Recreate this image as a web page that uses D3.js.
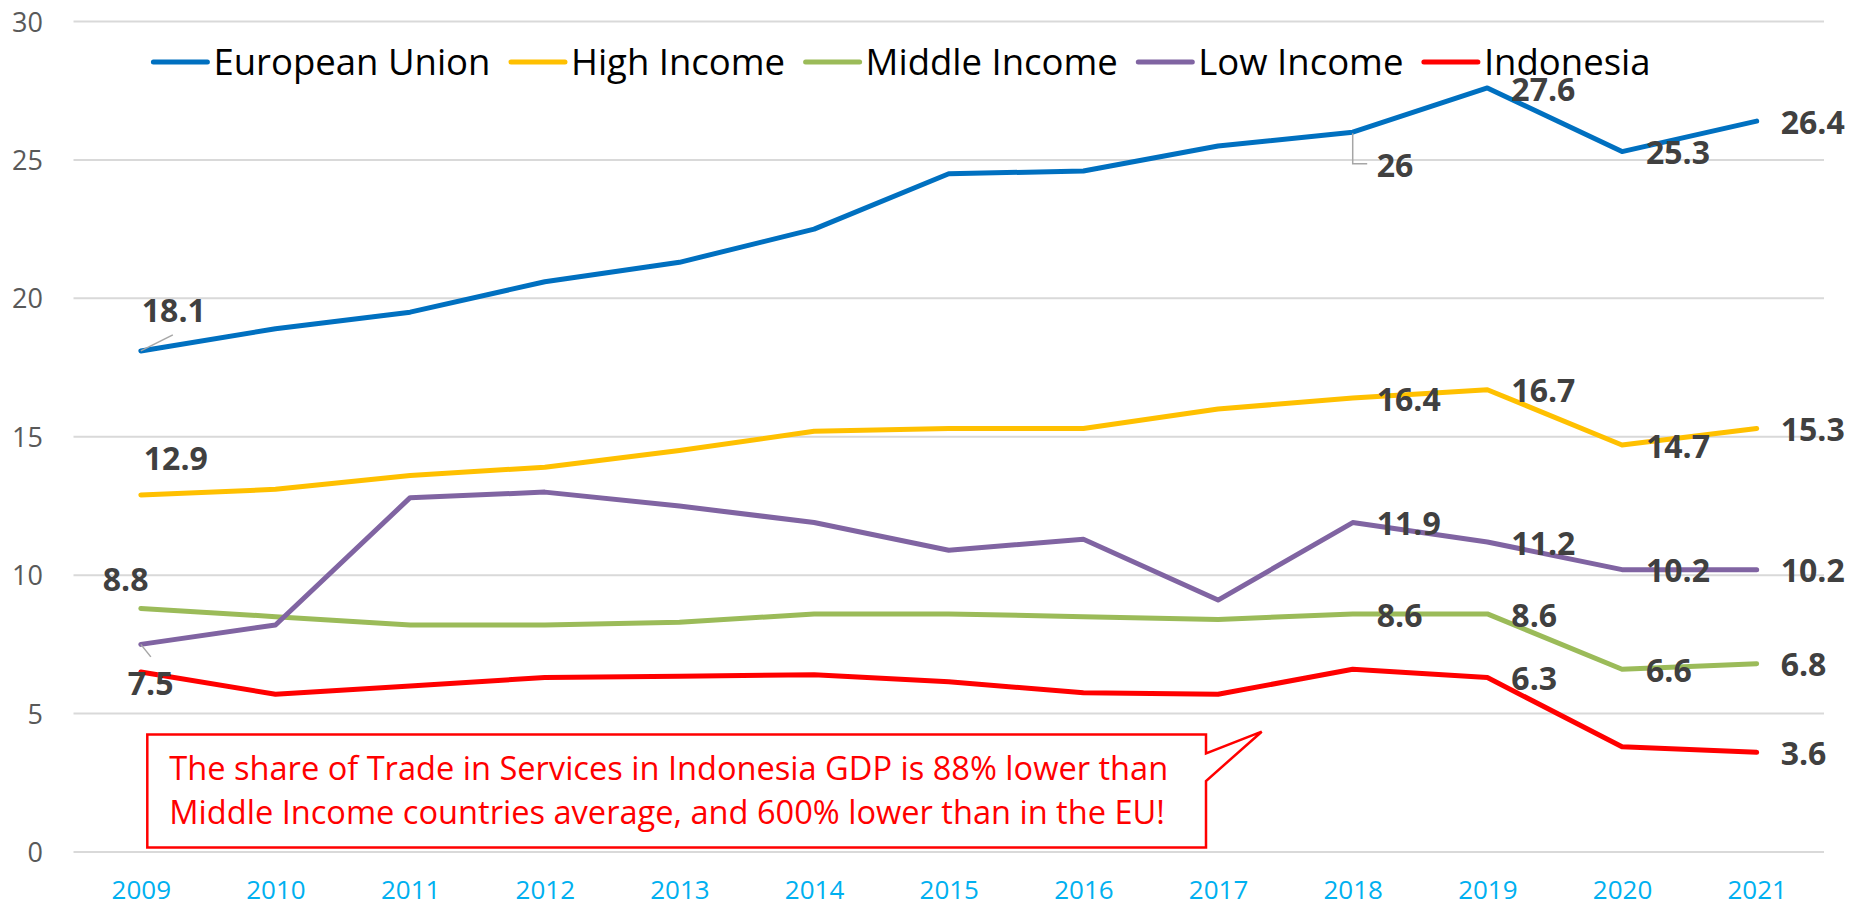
<!DOCTYPE html>
<html>
<head>
<meta charset="utf-8">
<script src="https://cdn.jsdelivr.net/npm/d3@7"></script>
<style>
  html, body { margin: 0; padding: 0; background: #ffffff; }
  svg { display: block; }
  text { font-family: "Open Sans", "Noto Sans", sans-serif; }
</style>
</head>
<body>
<svg id="chart" width="1854" height="907"></svg>
<script>
// ---------- DATA ----------
const years = ["2009","2010","2011","2012","2013","2014","2015","2016","2017","2018","2019","2020","2021"];
const seriesNames = ["European Union","High Income","Middle Income","Low Income","Indonesia"];
const euValues     = [18.1, 18.9, 19.5, 20.6, 21.3, 22.5, 24.5, 24.6, 25.5, 26.0, 27.6, 25.3, 26.4];
const highValues   = [12.9, 13.1, 13.6, 13.9, 14.5, 15.2, 15.3, 15.3, 16.0, 16.4, 16.7, 14.7, 15.3];
const middleValues = [8.8, 8.5, 8.2, 8.2, 8.3, 8.6, 8.6, 8.5, 8.4, 8.6, 8.6, 6.6, 6.8];
const lowValues    = [7.5, 8.2, 12.8, 13.0, 12.5, 11.9, 10.9, 11.3, 9.1, 11.9, 11.2, 10.2, 10.2];
const indoValues   = [6.5, 5.7, 6.0, 6.3, 6.35, 6.4, 6.15, 5.75, 5.7, 6.6, 6.3, 3.8, 3.6];
const yTicks = [0, 5, 10, 15, 20, 25, 30];
// which points carry a value label: [series index, year index]
const labelledPoints = [
  [0,0],[0,9],[0,10],[0,11],[0,12],
  [1,0],[1,9],[1,10],[1,11],[1,12],
  [2,0],[2,9],[2,10],[2,11],[2,12],
  [3,0],[3,9],[3,10],[3,11],[3,12],
  [4,10],[4,12]
];
const calloutLines = [
  "The share of Trade in Services in Indonesia GDP is 88% lower than",
  "Middle Income countries average, and 600% lower than in the EU!"
];

// ---------- STYLE / LAYOUT ----------
const colors = ["#0070C0", "#FFC000", "#9BBB59", "#8064A2", "#FF0000"];
const allValues = [euValues, highValues, middleValues, lowValues, indoValues];
// label placement overrides (offset of label left/baseline from point)
const labelOffsets = {
  "0-0": {dx: 1, dy: -29, leader: [[0,0],[32,-16]]},
  "0-9": {dx: 24, dy: 44.7, leader: [[0,1],[0,31.5],[14.5,31.5]]},
  "1-0": {dx: 3, dy: -24.8},
  "2-0": {dx: -38, dy: -17.6},
  "3-0": {dx: -13, dy: 50.7, leader: [[0,0],[10,12.5]]}
};
const defaultOffset = {dx: 24, dy: 12.7};

const svg = d3.select("#chart");
const plotLeft = 73.5, plotRight = 1824, plotTop = 21.5, plotBottom = 852;

const x = d3.scalePoint().domain(years).range([plotLeft, plotRight]).padding(0.5);
const y = d3.scaleLinear().domain([0, 30]).range([plotBottom, plotTop]);

// gridlines
svg.append("g").selectAll("line").data(yTicks).join("line")
  .attr("x1", plotLeft).attr("x2", plotRight)
  .attr("y1", d => y(d)).attr("y2", d => y(d))
  .attr("stroke", "#d9d9d9").attr("stroke-width", 2);

// y axis
const yAxis = d3.axisLeft(y).tickValues(yTicks).tickSize(0).tickPadding(0);
const gy = svg.append("g").attr("transform", `translate(43,0)`).call(yAxis);
gy.select(".domain").remove();
gy.selectAll("text")
  .attr("fill", "#595959")
  .style("font-family", "'Open Sans', sans-serif")
  .style("font-size", "27px")
  .attr("x", 0).attr("dy", "0.357em");

// x axis
const xAxis = d3.axisBottom(x).tickSize(0).tickPadding(0);
const gx = svg.append("g").attr("transform", `translate(0,899)`).call(xAxis);
gx.select(".domain").remove();
gx.selectAll("text")
  .attr("fill", "#00B0F0")
  .style("font-family", "'Open Sans', sans-serif")
  .style("font-size", "26px")
  .attr("y", 0).attr("dy", 0);

// lines
const line = d3.line().x((d, i) => x(years[i])).y(d => y(d));
svg.append("g").selectAll("path").data(allValues).join("path")
  .attr("d", d => line(d))
  .attr("fill", "none")
  .attr("stroke", (d, i) => colors[i])
  .attr("stroke-width", 5)
  .attr("stroke-linejoin", "round")
  .attr("stroke-linecap", "round");

// leader lines + labels
const lg = svg.append("g");
labelledPoints.forEach(([s, i]) => {
  const v = allValues[s][i];
  const px = x(years[i]), py = y(v);
  const o = labelOffsets[`${s}-${i}`] || defaultOffset;
  if (o.leader) {
    lg.append("path")
      .attr("d", d3.line()(o.leader.map(p => [px + p[0], py + p[1]])))
      .attr("fill", "none").attr("stroke", "#a6a6a6").attr("stroke-width", 1.5);
  }
  lg.append("text")
    .attr("x", px + o.dx).attr("y", py + o.dy)
    .attr("fill", "#404040")
    .style("font-size", "32px").style("font-weight", "bold")
    .text(String(v));
});

// legend
const legend = svg.append("g");
let lx = 153.4;
const legY = 62;
seriesNames.forEach((name, i) => {
  legend.append("line")
    .attr("x1", lx).attr("x2", lx + 54).attr("y1", legY).attr("y2", legY)
    .attr("stroke", colors[i]).attr("stroke-width", 5).attr("stroke-linecap", "round");
  const t = legend.append("text")
    .attr("x", lx + 60).attr("y", 75)
    .attr("fill", "#000000")
    .style("font-size", "36.5px")
    .text(name);
  lx = lx + 60 + t.node().getComputedTextLength() + 20.5;
});

// callout
const bx0 = 147.3, by0 = 734.5, bx1 = 1206, by1 = 847.5;
const callout = svg.append("g");
callout.append("path")
  .attr("d", `M${bx0},${by0} L${bx1},${by0} L${bx1},753.3 L1261.7,731.7 L${bx1},781 L${bx1},${by1} L${bx0},${by1} Z`)
  .attr("fill", "#ffffff").attr("stroke", "#FF0000").attr("stroke-width", 2.5)
  .attr("stroke-linejoin", "miter");
callout.selectAll("text").data(calloutLines).join("text")
  .attr("x", 169.3)
  .attr("y", (d, i) => 780 + i * 44.3)
  .attr("fill", "#FF0000")
  .style("font-size", "32.6px")
  .text(d => d);
</script>
</body>
</html>
